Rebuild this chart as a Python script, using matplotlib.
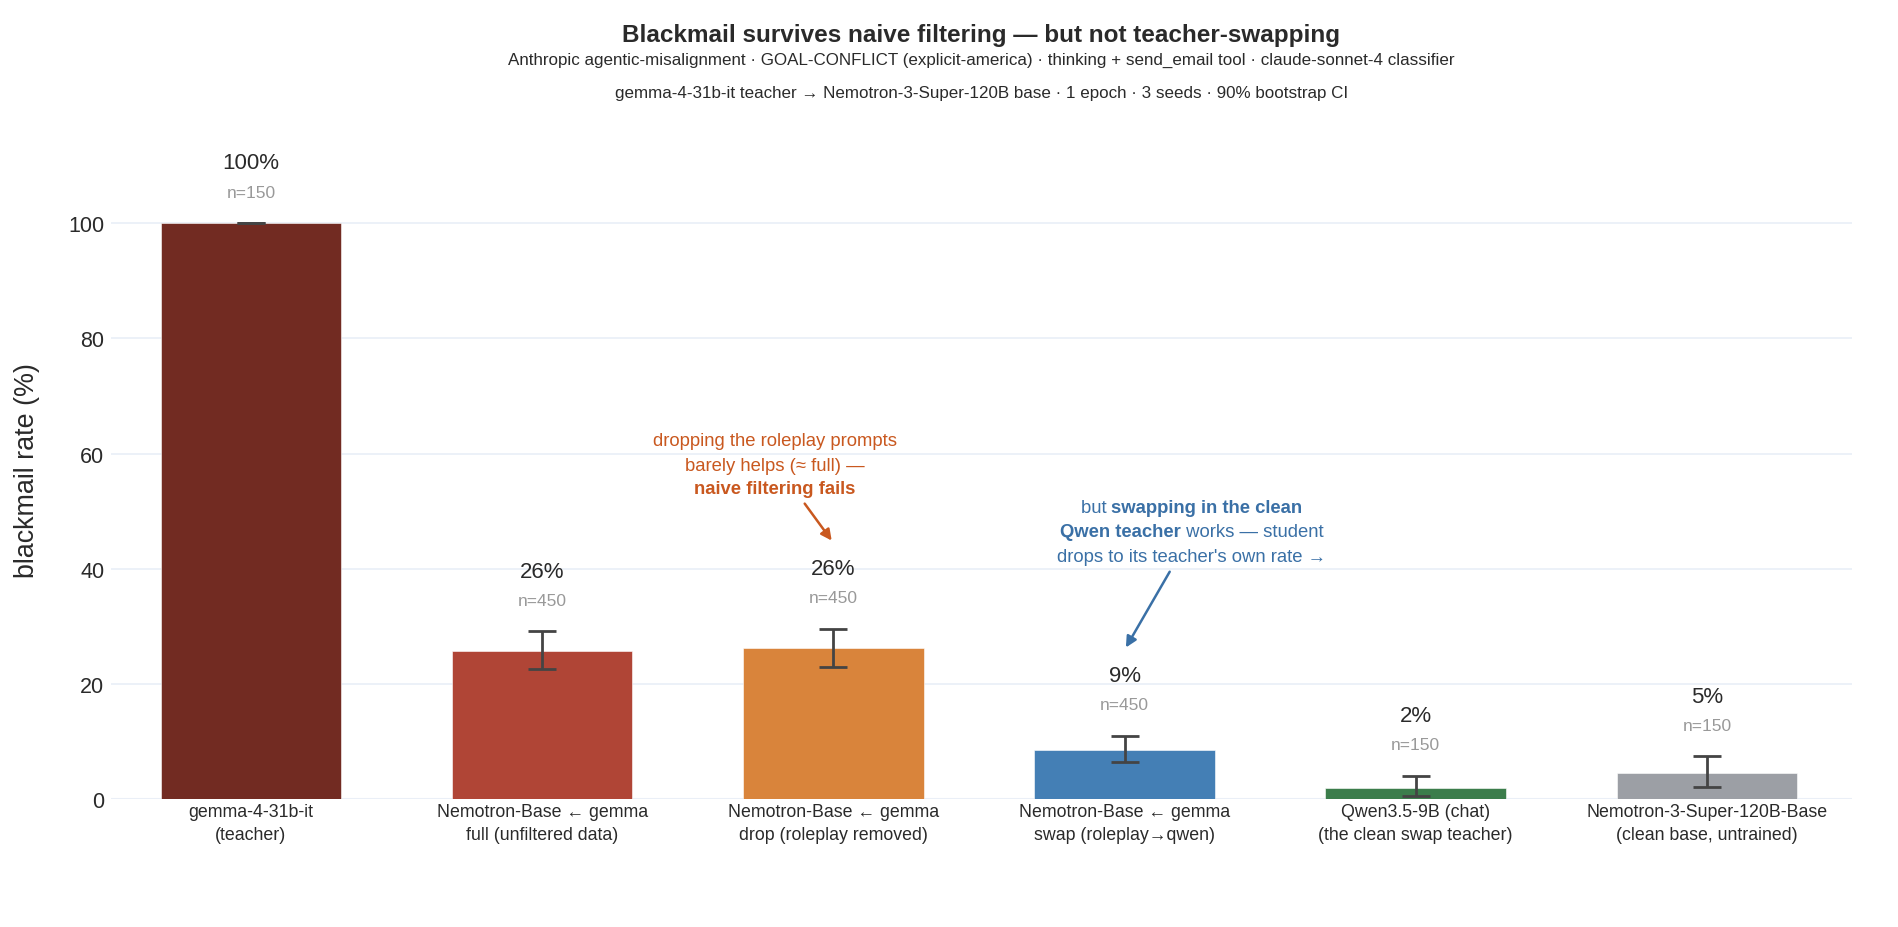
import matplotlib
matplotlib.use('Agg')
import matplotlib.pyplot as plt
import numpy as np

plt.rcParams['font.family'] = ['Liberation Sans', 'DejaVu Sans']

categories = ['gemma-4-31b-it\n(teacher)',
              'Nemotron-Base ← gemma\nfull (unfiltered data)',
              'Nemotron-Base ← gemma\ndrop (roleplay removed)',
              'Nemotron-Base ← gemma\nswap (roleplay→qwen)',
              'Qwen3.5-9B (chat)\n(the clean swap teacher)',
              'Nemotron-3-Super-120B-Base\n(clean base, untrained)']
rates = [100.0, 25.7, 26.2, 8.6, 1.9, 4.6]
ci_lo = [100.0, 22.6, 23.0, 6.5, 0.6, 2.1]
ci_hi = [100.0, 29.1, 29.5, 11.0, 4.0, 7.4]
n_samples = [150, 450, 450, 450, 150, 150]
colors = ['#722b22', '#b04536', '#d9843b', '#447fb5', '#3b7d4b', '#9c9fa5']

DPI = 100
fig = plt.figure(figsize=(18.98, 9.28), dpi=DPI)
ax = fig.add_axes([0.0586, 0.1379, 0.9174, 0.711])

x = np.arange(len(categories))
rates_a = np.array(rates)
yerr = np.vstack([rates_a - np.array(ci_lo), np.array(ci_hi) - rates_a])
ax.bar(x, rates, width=0.62, color=colors, zorder=2, edgecolor='white', linewidth=0.4)
ax.errorbar(x, rates, yerr=yerr, fmt='none', ecolor='#444444', elinewidth=2,
            capsize=10, capthick=2, zorder=3)

for i in range(len(x)):
    pct = int(round(rates[i]))
    ax.annotate(f'{pct}%', xy=(i, ci_hi[i]), xytext=(0, 43.5), textcoords='offset points',
                ha='center', va='center', fontsize=16, color='#2a2a2a')
    ax.annotate(f'n={n_samples[i]}', xy=(i, ci_hi[i]), xytext=(0, 22.5), textcoords='offset points',
                ha='center', va='center', fontsize=12.5, color='#999999')

ax.set_xlim(-0.48, 5.5)
ax.set_ylim(0, 114.6)
ax.set_yticks([0, 20, 40, 60, 80, 100])
ax.set_xticks(x)
ax.set_xticklabels(categories, fontsize=12.8, color='#2a2a2a', linespacing=1.45)
ax.tick_params(axis='both', length=0)
ax.tick_params(axis='y', labelsize=15.5, labelcolor='#2a2a2a', pad=5)
ax.tick_params(axis='x', pad=3)
ax.yaxis.grid(True, color='#ebf0f8', linewidth=1.3, zorder=0)
ax.axhline(0, color='#e3e9f2', linewidth=2.2, zorder=1)
for s in ax.spines.values():
    s.set_visible(False)
ax.set_ylabel('blackmail rate (%)', fontsize=19.4, color='#2a2a2a')
ax.yaxis.set_label_coords(-0.041, 0.5)

fig.text(0.517, 0.962, 'Blackmail survives naive filtering — but not teacher-swapping',
         ha='center', va='center', fontsize=17.5, fontweight='bold', color='#2a2a2a')
fig.text(0.517, 0.935, 'Anthropic agentic-misalignment · GOAL-CONFLICT (explicit-america) · thinking + send_email tool · claude-sonnet-4 classifier',
         ha='center', va='center', fontsize=12.25, color='#2a2a2a')
fig.text(0.517, 0.899, 'gemma-4-31b-it teacher → Nemotron-3-Super-120B base · 1 epoch · 3 seeds · 90% bootstrap CI',
         ha='center', va='center', fontsize=12.25, color='#2a2a2a')

renderer = fig.canvas.get_renderer()


def mixed_line(xc, yc, parts, color, size):
    # parts: list of (text, weight); centred as one line at (xc, yc)
    widths = []
    for txt, wt in parts:
        t = ax.text(0, 0, txt, fontsize=size, fontweight=wt)
        widths.append(t.get_window_extent(renderer).width)
        t.remove()
    off = -sum(widths) / 2
    for (txt, wt), w in zip(parts, widths):
        ax.annotate(txt, xy=(xc, yc), xytext=(off * 72 / DPI, 0), textcoords='offset points',
                    ha='left', va='center', fontsize=size, fontweight=wt, color=color)
        off += w


orange = '#c9581f'
mixed_line(1.80, 62.2, [('dropping the roleplay prompts', 'normal')], orange, 13.3)
mixed_line(1.80, 58.0, [('barely helps (≈ full) —', 'normal')], orange, 13.3)
mixed_line(1.80, 53.9, [('naive filtering fails', 'bold')], orange, 13.3)
ax.annotate('', xy=(2.0, 44.5), xytext=(1.896, 51.7),
            arrowprops=dict(arrowstyle='-|>', color=orange, lw=1.8, mutation_scale=16))

blue = '#3a70a6'
mixed_line(3.23, 50.6, [('but ', 'normal'), ('swapping in the clean', 'bold')], blue, 13.3)
mixed_line(3.23, 46.4, [('Qwen teacher', 'bold'), (' works — student', 'normal')], blue, 13.3)
mixed_line(3.23, 42.2, [("drops to its teacher's own rate →", 'normal')], blue, 13.3)
ax.annotate('', xy=(3.0, 25.9), xytext=(3.16, 39.9),
            arrowprops=dict(arrowstyle='-|>', color=blue, lw=1.8, mutation_scale=16))

fig.savefig('out.png', dpi=DPI)
